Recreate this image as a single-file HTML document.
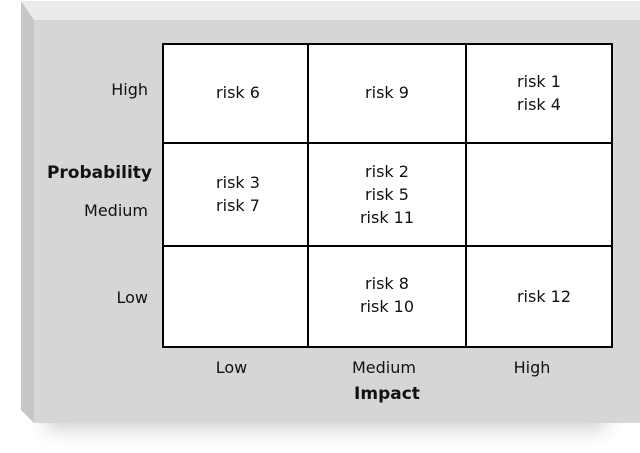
<!DOCTYPE html><html><head><style>
body{margin:0;width:640px;height:453px;background:#fff;position:relative;overflow:hidden;font-family:"DejaVu Sans","Liberation Sans",sans-serif;}
.a{position:absolute}
.t{position:absolute;font-size:16px;color:#111;text-align:center;line-height:23px}
</style></head><body>
<div class="a" style="left:40px;top:40px;width:560px;height:380px;box-shadow:6px 10px 18px rgba(0,0,0,0.18)"></div>
<svg class="a" style="left:0;top:0" width="640" height="453">
<polygon points="21,1 640,1 640,20 34,20" fill="#ebebeb"/>
<polygon points="21,1 34,20 34,423 21,410" fill="#c6c6c6"/>
<rect x="34" y="20" width="606" height="403" fill="#d6d6d6"/>
<rect x="163" y="44" width="449" height="303" fill="#fff" stroke="#000" stroke-width="2"/>
<line x1="308" y1="44" x2="308" y2="347" stroke="#000" stroke-width="2"/>
<line x1="466" y1="44" x2="466" y2="347" stroke="#000" stroke-width="2"/>
<line x1="163" y1="143" x2="612" y2="143" stroke="#000" stroke-width="2"/>
<line x1="163" y1="246" x2="612" y2="246" stroke="#000" stroke-width="2"/>
</svg>
<div class="t" style="left:80px;top:78px;width:68px;text-align:right">High</div>
<div class="t" style="left:70px;top:199px;width:78px;text-align:right">Medium</div>
<div class="t" style="left:80px;top:286px;width:68px;text-align:right">Low</div>
<div class="t" style="left:20px;top:162px;width:132px;text-align:right;font-weight:bold;font-size:17px">Probability</div>
<div class="t" style="left:163px;top:356px;width:137px">Low</div>
<div class="t" style="left:308px;top:356px;width:152px">Medium</div>
<div class="t" style="left:466px;top:356px;width:132px">High</div>
<div class="t" style="left:308px;top:383px;width:158px;font-weight:bold;font-size:17px">Impact</div>
<div class="t" style="left:163px;top:81px;width:150px">risk 6</div>
<div class="t" style="left:308px;top:81px;width:158px">risk 9</div>
<div class="t" style="left:466px;top:70px;width:146px">risk 1<br>risk 4</div>
<div class="t" style="left:163px;top:171px;width:150px">risk 3<br>risk 7</div>
<div class="t" style="left:308px;top:160px;width:158px">risk 2<br>risk 5<br>risk 11</div>
<div class="t" style="left:308px;top:272px;width:158px">risk 8<br>risk 10</div>
<div class="t" style="left:466px;top:285px;width:156px">risk 12</div>
</body></html>
